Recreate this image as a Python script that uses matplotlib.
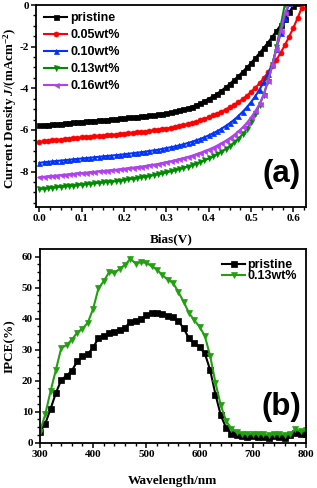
import matplotlib
matplotlib.use("Agg")
import matplotlib.pyplot as plt
from matplotlib.ticker import MultipleLocator

plt.rcParams['axes.unicode_minus'] = False
plt.rcParams['mathtext.fontset'] = 'custom'
plt.rcParams['mathtext.rm'] = 'Liberation Serif:bold'
plt.rcParams['mathtext.it'] = 'Liberation Serif:italic:bold'
plt.rcParams['mathtext.bf'] = 'Liberation Serif:bold'

# ---------------- (a) J-V data ----------------
bias_pristine = [i / 100 for i in range(0, 62)]
j_pristine = [-5.78, -5.76, -5.74, -5.72, -5.71, -5.69, -5.67, -5.65, -5.63, -5.62,
              -5.60, -5.58, -5.57, -5.55, -5.53, -5.52, -5.50, -5.48, -5.46, -5.44,
              -5.42, -5.40, -5.38, -5.36, -5.34, -5.32, -5.30, -5.28, -5.25, -5.22,
              -5.19, -5.15, -5.11, -5.06, -5.01, -4.95, -4.88, -4.80, -4.71, -4.61,
              -4.50, -4.38, -4.25, -4.11, -3.95, -3.78, -3.60, -3.41, -3.21, -3.00,
              -2.78, -2.55, -2.31, -2.06, -1.80, -1.53, -1.25, -0.96, -0.66, -0.35,
              -0.03, 0.10]

bias_005 = [i / 100 for i in range(0, 63)]
j_005 = [-6.58, -6.55, -6.53, -6.50, -6.48, -6.46, -6.44, -6.42, -6.40, -6.38,
         -6.36, -6.35, -6.33, -6.31, -6.30, -6.28, -6.26, -6.24, -6.22, -6.20,
         -6.18, -6.16, -6.14, -6.12, -6.10, -6.08, -6.05, -6.02, -5.99, -5.96,
         -5.93, -5.90, -5.86, -5.82, -5.77, -5.72, -5.66, -5.60, -5.53, -5.46,
         -5.38, -5.30, -5.21, -5.12, -5.02, -4.91, -4.79, -4.66, -4.52, -4.36,
         -4.18, -3.98, -3.76, -3.51, -3.24, -2.95, -2.63, -2.29, -1.92, -1.52,
         -1.09, -0.62, -0.12]

bias_010 = [i / 100 for i in range(0, 60)]
j_010 = [-7.58, -7.55, -7.53, -7.51, -7.49, -7.47, -7.45, -7.43, -7.41, -7.39,
         -7.37, -7.35, -7.33, -7.31, -7.29, -7.27, -7.25, -7.23, -7.21, -7.19,
         -7.17, -7.14, -7.12, -7.09, -7.07, -7.04, -7.01, -6.98, -6.95, -6.91,
         -6.87, -6.83, -6.79, -6.74, -6.69, -6.63, -6.57, -6.50, -6.43, -6.35,
         -6.26, -6.16, -6.06, -5.94, -5.81, -5.67, -5.51, -5.33, -5.13, -4.91,
         -4.66, -4.38, -4.06, -3.70, -3.30, -2.85, -2.10, -1.35, -0.60, 0.10]

bias_013 = [i / 100 for i in range(0, 59)]
j_013 = [-8.85, -8.82, -8.80, -8.77, -8.75, -8.73, -8.71, -8.69, -8.67, -8.65,
         -8.62, -8.60, -8.58, -8.56, -8.54, -8.52, -8.50, -8.48, -8.46, -8.43,
         -8.40, -8.37, -8.34, -8.31, -8.28, -8.24, -8.21, -8.17, -8.13, -8.09,
         -8.04, -7.99, -7.94, -7.88, -7.82, -7.76, -7.69, -7.62, -7.54, -7.46,
         -7.37, -7.27, -7.16, -7.04, -6.91, -6.77, -6.60, -6.42, -6.21, -5.97,
         -5.60, -5.22, -4.80, -4.30, -3.65, -2.90, -2.00, -1.00, 0.05]

bias_016 = [i / 100 for i in range(0, 60)]
j_016 = [-8.28, -8.25, -8.23, -8.21, -8.19, -8.17, -8.15, -8.13, -8.11, -8.09,
         -8.07, -8.05, -8.03, -8.01, -7.99, -7.97, -7.95, -7.93, -7.91, -7.89,
         -7.86, -7.84, -7.81, -7.79, -7.76, -7.73, -7.70, -7.67, -7.63, -7.59,
         -7.55, -7.51, -7.46, -7.41, -7.36, -7.30, -7.24, -7.17, -7.10, -7.02,
         -6.94, -6.85, -6.75, -6.64, -6.52, -6.39, -6.24, -6.07, -5.88, -5.66,
         -5.40, -5.10, -4.75, -4.30, -3.65, -2.90, -2.10, -1.25, -0.40, 0.10]

jv_labels = ["pristine", "0.05wt%", "0.10wt%", "0.13wt%", "0.16wt%"]
jv_colors = ["#000000", "#ff0000", "#0033ff", "#008c00", "#b040f0"]
jv_markers = ["s", "o", "^", "v", "<"]

# ---------------- (b) IPCE data ----------------
wavelength = list(range(300, 801, 10))
ipce_pristine = [3.4, 6.1, 10.9, 16.0, 20.2, 21.6, 23.2, 26.2, 27.8, 28.6,
                 30.7, 33.7, 34.5, 35.4, 35.8, 36.4, 37.1, 39.0, 39.3, 39.8,
                 41.1, 41.7, 41.9, 41.4, 40.9, 40.6, 39.3, 36.9, 33.7, 32.0,
                 30.7, 28.8, 23.4, 15.5, 8.8, 4.7, 2.9, 2.4, 2.0, 1.8,
                 2.0, 1.8, 1.9, 1.6, 2.0, 1.9, 1.6, 2.4, 3.2, 2.9, 2.9]
ipce_013 = [3.5, 9.1, 16.6, 23.5, 30.5, 31.5, 33.2, 35.5, 36.8, 38.7,
            43.2, 49.8, 52.1, 55.0, 54.8, 56.1, 57.4, 59.3, 57.8, 58.2,
            58.0, 56.9, 55.8, 54.1, 52.6, 51.6, 48.7, 45.5, 41.9, 39.5,
            37.4, 34.4, 28.0, 19.3, 12.0, 7.0, 4.5, 3.4, 2.9, 2.7,
            2.9, 2.8, 2.7, 2.4, 2.7, 2.7, 2.6, 2.7, 4.3, 3.6, 4.0]

serif = 'Liberation Serif'
sans = 'Liberation Sans'

fig = plt.figure(figsize=(3.17, 4.88), dpi=100)

def style_axes(ax):
    for s in ax.spines.values():
        s.set_linewidth(1.3)
    ax.tick_params(which='both', direction='out', top=False, right=False)
    ax.tick_params(which='major', length=3.5, width=1.1, labelsize=8, pad=1.5)
    ax.tick_params(which='minor', length=2, width=1.0)
    for lab in ax.get_xticklabels() + ax.get_yticklabels():
        lab.set_fontfamily(serif)
        lab.set_fontweight('bold')

# ---- top panel ----
ax1 = fig.add_axes([0.1136, 0.5758, 0.852, 0.4139])
jv_bias = [bias_pristine, bias_005, bias_010, bias_013, bias_016]
jv_j = [j_pristine, j_005, j_010, j_013, j_016]
for x, y, lab, c, m in zip(jv_bias, jv_j, jv_labels, jv_colors, jv_markers):
    ax1.plot(x, y, color=c, marker=m, markersize=3.6, linewidth=1.5,
             markeredgewidth=0.5, label=lab)
ax1.set_xlim(-0.008, 0.63)
ax1.set_ylim(-9.7, 0)
ax1.xaxis.set_minor_locator(MultipleLocator(0.025))
ax1.yaxis.set_minor_locator(MultipleLocator(0.5))
ax1.set_xticks([0, 0.1, 0.2, 0.3, 0.4, 0.5, 0.6])
ax1.set_xticklabels(['0.0', '0.1', '0.2', '0.3', '0.4', '0.5', '0.6'])
ax1.set_yticks([0, -2, -4, -6, -8])
ax1.set_yticklabels(['0', '-2', '-4', '-6', '-8'])
style_axes(ax1)
ax1.set_xlabel('Bias(V)', fontfamily=serif, fontweight='bold', fontsize=9.5)
ax1.set_ylabel('Current Density $J$/(mAcm$^{-2}$)', fontfamily=serif,
               fontweight='bold', fontsize=9.4)
ax1.xaxis.set_label_coords(0.5, -0.13)
ax1.yaxis.set_label_coords(-0.062, 0.49)
leg1 = ax1.legend(loc='upper left', bbox_to_anchor=(0.03, 0.965), frameon=False,
                  prop={'family': sans, 'weight': 'bold', 'size': 9},
                  handlelength=1.85, handletextpad=0.25, labelspacing=0.4,
                  borderpad=0, borderaxespad=0, numpoints=1)
ax1.text(0.909, 0.163, '(a)', transform=ax1.transAxes, fontfamily=sans,
         fontweight='bold', fontsize=22.5, ha='center', va='center')

# ---- bottom panel ----
ax2 = fig.add_axes([0.126, 0.0912, 0.839, 0.398])
ax2.plot(wavelength, ipce_pristine, color='#000000', marker='s', markersize=4,
         linewidth=1.5, markeredgewidth=0.5, label='pristine')
ax2.plot(wavelength, ipce_013, color='#22a010', marker='v', markersize=4.5,
         linewidth=1.5, markeredgewidth=0.5, label='0.13wt%')
ax2.set_xlim(300, 800)
ax2.set_ylim(-0.3, 62.4)
ax2.xaxis.set_minor_locator(MultipleLocator(20))
ax2.yaxis.set_minor_locator(MultipleLocator(2.5))
ax2.set_xticks([300, 400, 500, 600, 700, 800])
ax2.set_yticks([0, 10, 20, 30, 40, 50, 60])
style_axes(ax2)
ax2.set_xlabel('Wavelength/nm', fontfamily=serif, fontweight='bold', fontsize=9.5)
ax2.set_ylabel('IPCE(%)', fontfamily=serif, fontweight='bold', fontsize=9.5)
ax2.xaxis.set_label_coords(0.5, -0.16)
ax2.yaxis.set_label_coords(-0.09, 0.5)
leg2 = ax2.legend(loc='upper left', bbox_to_anchor=(0.685, 0.95), frameon=False,
                  prop={'family': sans, 'weight': 'bold', 'size': 9},
                  handlelength=1.85, handletextpad=0.15, labelspacing=-0.06,
                  borderpad=0, borderaxespad=0, numpoints=1)
ax2.text(0.906, 0.186, '(b)', transform=ax2.transAxes, fontfamily=sans,
         fontweight='bold', fontsize=22.5, ha='center', va='center')

fig.savefig('out.png', dpi=100)
